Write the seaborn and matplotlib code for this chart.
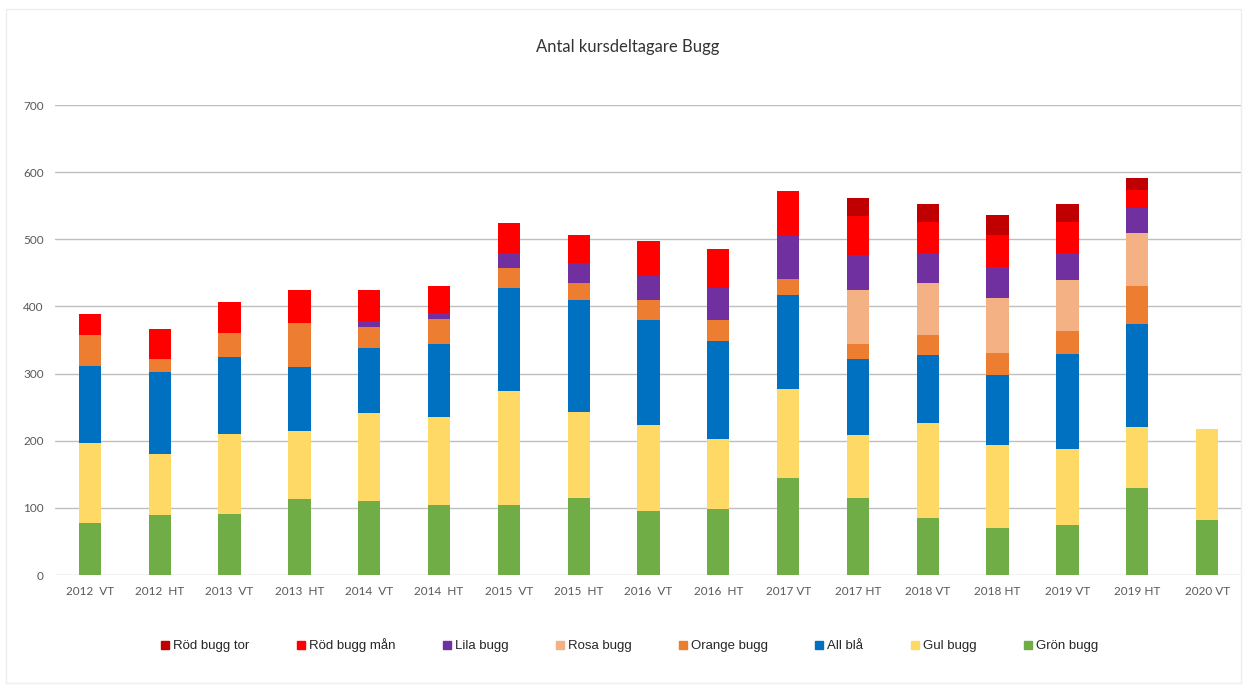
import pandas as pd
import seaborn as sns
import matplotlib.pyplot as plt
from matplotlib.lines import Line2D
from matplotlib.patches import Rectangle

terminer = ['2012  VT', '2012  HT', '2013  VT', '2013  HT', '2014  VT', '2014  HT',
            '2015  VT', '2015  HT', '2016  VT', '2016  HT', '2017 VT', '2017 HT',
            '2018 VT', '2018 HT', '2019 VT', '2019 HT', '2020 VT']

gron = [78, 89, 91, 113, 110, 105, 105, 115, 95, 99, 145, 114, 85, 70, 74, 129, 82]
gul = [119, 91, 119, 102, 131, 131, 169, 128, 128, 104, 132, 95, 141, 124, 113, 92, 135]
bla = [114, 123, 115, 95, 97, 108, 153, 166, 157, 146, 140, 112, 102, 104, 142, 153, 0]
orange = [46, 18, 36, 66, 32, 37, 30, 26, 30, 31, 24, 23, 29, 32, 35, 57, 0]
rosa = [0, 0, 0, 0, 0, 0, 0, 0, 0, 0, 0, 80, 78, 83, 75, 78, 0]
lila = [0, 0, 0, 0, 9, 9, 23, 29, 36, 48, 64, 53, 45, 46, 40, 37, 0]
rod_man = [32, 45, 45, 48, 45, 41, 44, 42, 51, 57, 67, 57, 46, 47, 47, 28, 0]
rod_tor = [0, 0, 0, 0, 0, 0, 0, 0, 0, 0, 0, 27, 26, 30, 26, 18, 0]

# ordning nerifrån och upp
serier = [
    ('Grön bugg', gron, '#70AD47'),
    ('Gul bugg', gul, '#FFD966'),
    ('All blå', bla, '#0070C0'),
    ('Orange bugg', orange, '#ED7D31'),
    ('Rosa bugg', rosa, '#F4B183'),
    ('Lila bugg', lila, '#7030A0'),
    ('Röd bugg mån', rod_man, '#FF0000'),
    ('Röd bugg tor', rod_tor, '#C00000'),
]


def kumulativ(serier):
    df = pd.DataFrame({'termin': terminer})
    summa = [0] * len(terminer)
    for namn, varden, _ in serier:
        summa = [s + v for s, v in zip(summa, varden)]
        df[namn] = summa
    return df


def rita(df):
    fig = plt.figure(figsize=(12.47, 6.86), dpi=100)
    ax = fig.add_axes([0.0441, 0.1618, 0.9519, 0.6851])

    # staplarna ritas uppifrån och ned, kumulativt, så de ligger staplade
    for namn, _, farg in reversed(serier):
        sns.barplot(data=df, x='termin', y=namn, color=farg, width=0.32,
                    errorbar=None, saturation=1, linewidth=0, edgecolor=farg,
                    ax=ax, zorder=2)

    ax.set_ylim(0, 700)
    ax.set_xlim(-0.5, len(terminer) - 0.5)
    ax.set_yticks(range(0, 701, 100))
    ax.yaxis.grid(True, color='#BFBFBF', linewidth=1, zorder=0)
    ax.set_axisbelow(True)
    for s in ax.spines.values():
        s.set_visible(False)
    ax.tick_params(length=0, labelsize=8.5, labelcolor='#595959', pad=8)
    for lab in ax.get_xticklabels() + ax.get_yticklabels():
        lab.set_family(['Lato', 'DejaVu Sans'])
    ax.set_xlabel('')
    ax.set_ylabel('')

    fig.text(0.503, 0.931, 'Antal kursdeltagare Bugg', ha='center', va='center',
             fontsize=12, color='#333333', family=['Lato', 'DejaVu Sans'])

    handtag = [Line2D([], [], marker='s', linestyle='', markersize=6,
                      color=farg, label=namn) for namn, _, farg in reversed(serier)]
    fig.legend(handles=handtag, loc='center', bbox_to_anchor=(0.505, 0.059),
               ncol=8, frameon=False, handlelength=0.6, handletextpad=0.3,
               columnspacing=3.6, prop={'family': 'Liberation Sans', 'size': 9.5})

    fig.patches.append(Rectangle((0.005, 0.005), 0.99, 0.982, transform=fig.transFigure,
                                 fill=False, edgecolor='#EEEEEE', linewidth=1))
    fig.savefig('out.png', dpi=100)


if __name__ == "__main__":
    sns.set_style('white')
    dane = kumulativ(serier)
    rita(dane)
